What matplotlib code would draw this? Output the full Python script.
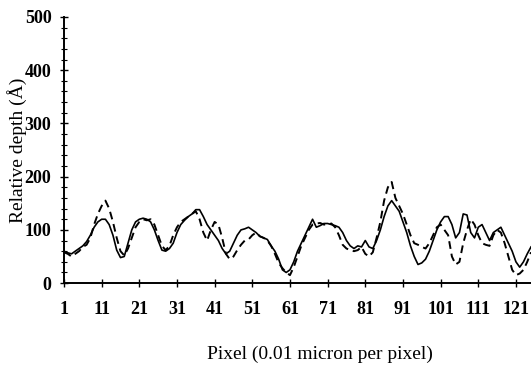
import numpy as np
import matplotlib.pyplot as plt

# pixel index along the scan line
pixels = np.arange(1, 126)

# depth profile, measured (solid) and reconstructed (dashed), in angstrom
depth_measured = [
    60, 57, 55, 60, 65, 70, 78, 90, 105, 115,
    120, 120, 110, 90, 62, 48, 50, 75, 100, 115,
    120, 122, 120, 115, 100, 80, 62, 60, 65, 75,
    95, 110, 118, 125, 130, 138, 138, 125, 110, 100,
    90, 80, 65, 55, 60, 75, 90, 100, 102, 105,
    100, 95, 88, 85, 82, 70, 60, 45, 25, 20,
    25, 40, 60, 75, 90, 105, 120, 105, 108, 112,
    112, 110, 108, 105, 95, 80, 70, 65, 70, 68,
    80, 68, 65, 80, 100, 125, 145, 155, 145, 135,
    115, 95, 70, 50, 35, 38, 45, 60, 80, 100,
    115, 125, 125, 110, 85, 95, 130, 128, 95, 85,
    105, 110, 95, 80, 95, 100, 105, 90, 75, 60,
    40, 30, 40, 55, 68,
]
depth_fitted = [
    58, 55, 50, 55, 60, 68, 72, 85, 110, 130,
    145, 155, 140, 115, 85, 60, 52, 65, 85, 105,
    115, 120, 118, 120, 110, 90, 70, 62, 70, 90,
    105, 115, 120, 125, 130, 135, 120, 95, 80, 100,
    115, 110, 85, 55, 45, 50, 62, 72, 80, 82,
    90, 95, 88, 85, 80, 70, 55, 38, 28, 20,
    15, 30, 50, 70, 85, 100, 110, 112, 113, 110,
    110, 112, 105, 90, 72, 65, 62, 60, 62, 68,
    55, 50, 58, 85, 115, 155, 180, 190, 160, 145,
    130, 110, 90, 75, 72, 68, 65, 75, 90, 105,
    110, 100, 90, 50, 35, 40, 75, 100, 120, 110,
    90, 75, 72, 70, 90, 100, 95, 75, 50, 25,
    15, 18, 25, 40, 58,
]

xtick_vals = np.arange(1, 122, 10)
ytick_vals = np.arange(0, 501, 100)

plt.rcParams['font.family'] = ['Liberation Serif', 'DejaVu Serif']

fig = plt.figure(figsize=(5.31, 3.77), dpi=100)
ax = fig.add_axes([0.1205, 0.249, 0.8795, 0.706])

ax.plot(pixels, depth_measured, color='black', lw=1.2, solid_joinstyle='round')
ax.plot(pixels, depth_fitted, color='black', lw=1.4, linestyle=(0, (4, 2.5)))

ax.set_xlim(1, 125)
ax.set_ylim(0, 500)
ax.set_xticks(xtick_vals)
ax.set_yticks(ytick_vals)
ax.set_yticks(np.arange(0, 501, 20), minor=True)

for side in ('top', 'right'):
    ax.spines[side].set_visible(False)
for side in ('left', 'bottom'):
    ax.spines[side].set_linewidth(1.4)

ax.tick_params(axis='both', which='major', direction='inout', length=6, width=1.0,
               labelsize=13)
ax.tick_params(axis='x', which='major', pad=10)
ax.tick_params(axis='y', which='major', pad=6)
ax.tick_params(axis='y', which='minor', direction='inout', length=4, width=0.8)
for lbl in ax.get_xticklabels() + ax.get_yticklabels():
    lbl.set_fontweight('bold')

ax.set_xlabel('Pixel (0.01 micron per pixel)', fontsize=14)
ax.xaxis.set_label_coords(0.548, -0.235)
ax.set_ylabel('Relative depth (Å)', fontsize=14)
ax.yaxis.set_label_coords(-0.079, 0.5)

fig.savefig('out.png', dpi=100)
